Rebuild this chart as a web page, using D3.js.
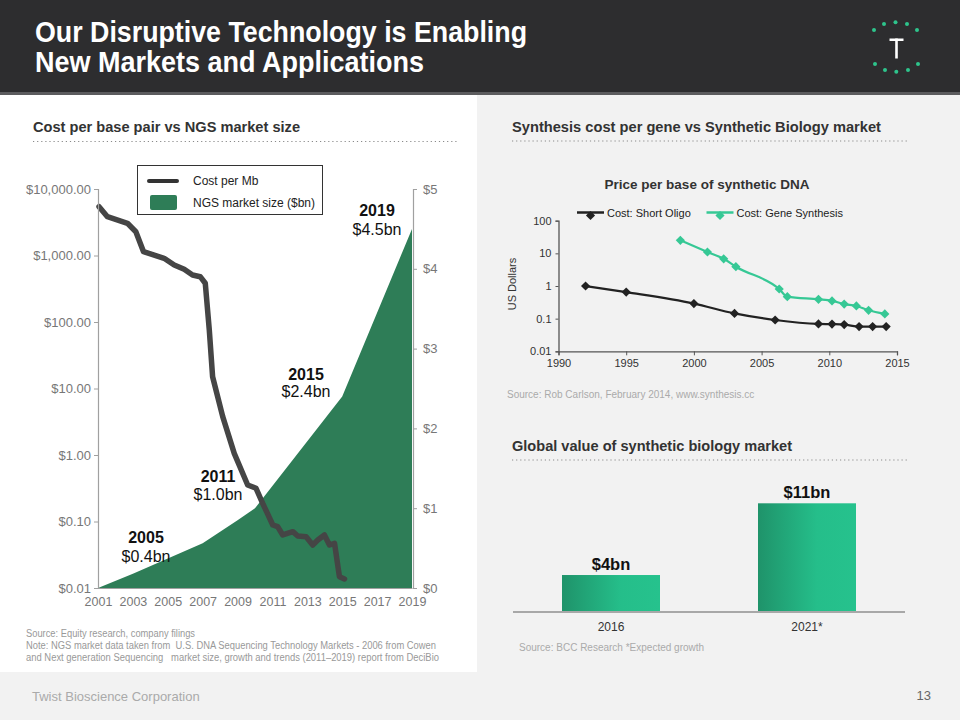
<!DOCTYPE html>
<html><head><meta charset="utf-8">
<script src="https://cdn.jsdelivr.net/npm/d3@7"></script>
<style>body{margin:0;background:#f2f2f2;}svg{display:block;font-family:"Liberation Sans",Arial,sans-serif;}</style>
</head><body>
<svg id="c" width="960" height="720"></svg>
<script>
// ---------- DATA ----------
const costYears = [2001.06,2001.54,2002.69,2003.17,2003.61,2004.79,2005.37,2005.94,2006.42,2006.86,2007.15,2007.38,2007.57,2008.15,2008.81,2009.58,2010.06,2010.44,2011.02,2011.30,2011.59,2012.17,2012.45,2012.93,2013.31,2013.60,2013.98,2014.27,2014.56,2014.84,2015.13];
const costPerMb = [5420,3830,3050,2280,1140,908,720,620,509,480,382,75.9,15.0,3.77,1.06,0.354,0.316,0.188,0.0886,0.0836,0.0627,0.0703,0.0605,0.059,0.0443,0.0527,0.0627,0.0443,0.047,0.0148,0.0137];
const ngsYears = [2001,2003,2005,2007,2009,2010,2015,2019];
const ngsMarket = [0,0.18,0.37,0.56,0.85,1.0,2.4,4.5];
const costTicks = [0.01,0.1,1,10,100,1000,10000];
const costTickLabels = ["$0.01","$0.10","$1.00","$10.00","$100.00","$1,000.00","$10,000.00"];
const marketTicks = [0,1,2,3,4,5];
const marketTickLabels = ["$0","$1","$2","$3","$4","$5"];
const yearTicks = [2001,2003,2005,2007,2009,2011,2013,2015,2017,2019];
const ngsAnnotations = [
  {year:"2019", value:"$4.5bn"},
  {year:"2015", value:"$2.4bn"},
  {year:"2011", value:"$1.0bn"},
  {year:"2005", value:"$0.4bn"}
];

const oligoYears = [1992,1995,2000,2003,2006,2009.2,2010.2,2011.1,2012.2,2013.2,2014.2];
const oligoCost = [1.0,0.65,0.29,0.145,0.091,0.069,0.068,0.066,0.057,0.057,0.057];
const geneYears = [1999,2001,2002.2,2003.1,2006.3,2006.9,2009.2,2010.2,2011.1,2012.0,2012.9,2014.1];
const geneCost = [25,11,6.8,3.9,0.81,0.47,0.39,0.35,0.28,0.245,0.18,0.14];
const priceTicks = [0.01,0.1,1,10,100];
const priceTickLabels = ["0.01","0.1","1","10","100"];
const priceYearTicks = [1990,1995,2000,2005,2010,2015];

const marketCategories = ["2016","2021*"];
const marketValues = [4,11];
const marketLabels = ["$4bn","$11bn"];

// ---------- PAGE ----------
const svg = d3.select("#c");
svg.append("rect").attr("width",960).attr("height",720).attr("fill","#f2f2f2");
svg.append("rect").attr("x",0).attr("y",95).attr("width",477).attr("height",577).attr("fill","#ffffff");
svg.append("rect").attr("width",960).attr("height",92).attr("fill","#2d2d2f");
svg.append("rect").attr("y",92).attr("width",960).attr("height",3).attr("fill","#5c5c5e");

const titleFont = '"Liberation Sans Narrow","Liberation Sans",Arial,sans-serif';
svg.append("text").attr("x",35).attr("y",42).attr("fill","#fff").attr("font-size",29).attr("font-weight","bold")
  .attr("font-family",titleFont)
  .attr("textLength",492).attr("lengthAdjust","spacingAndGlyphs").text("Our Disruptive Technology is Enabling");
svg.append("text").attr("x",35).attr("y",72).attr("fill","#fff").attr("font-size",29).attr("font-weight","bold")
  .attr("font-family",titleFont)
  .attr("textLength",389).attr("lengthAdjust","spacingAndGlyphs").text("New Markets and Applications");

// logo
const logoDots = [[874,30],[884,24],[895.5,22.3],[907,24],[917,30],[875,64],[885,70],[896.3,71.7],[908,70],[918,64]];
svg.append("g").selectAll("circle").data(logoDots).join("circle")
  .attr("cx",d=>d[0]).attr("cy",d=>d[1]).attr("r",2).attr("fill","#2ec48c");
svg.append("rect").attr("x",889.5).attr("y",38.5).attr("width",14).attr("height",2.5).attr("fill","#fff");
svg.append("rect").attr("x",895.2).attr("y",38.5).attr("width",2.6).attr("height",20).attr("fill","#fff");

// section titles
function sectionTitle(x, y, x2, t, w){
  svg.append("text").attr("x",x).attr("y",y).attr("font-size",14.6).attr("font-weight","bold").attr("fill","#333")
    .attr("textLength",w).attr("lengthAdjust","spacingAndGlyphs").text(t);
  svg.append("line").attr("x1",x).attr("x2",x2).attr("y1",y+9.5).attr("y2",y+9.5)
    .attr("stroke","#8a8a8a").attr("stroke-width",1.2).attr("stroke-dasharray","1.2,2.9");
}
sectionTitle(33,132,458,"Cost per base pair vs NGS market size",267);
sectionTitle(512,131.5,907,"Synthesis cost per gene vs Synthetic Biology market",369);
sectionTitle(512,450.5,907,"Global value of synthetic biology market",280);

// ---------- LEFT CHART ----------
const xL = d3.scaleLinear().domain([2001,2019]).range([98,412]);
const yCost = d3.scaleLog().domain([0.01,10000]).range([588,189]);
const yMkt = d3.scaleLinear().domain([0,5]).range([588,189]);

const area = d3.area().x((d,i)=>xL(ngsYears[i])).y0(yMkt(0)).y1(d=>yMkt(d));
svg.append("path").attr("d",area(ngsMarket)).attr("fill","#2e7d57");

const costLine = d3.line().x((d,i)=>xL(costYears[i])).y(d=>yCost(d));
svg.append("path").attr("d",costLine(costPerMb)).attr("fill","none").attr("stroke","#454545")
  .attr("stroke-width",5.5).attr("stroke-linejoin","round").attr("stroke-linecap","round");

const axL = svg.append("g").attr("transform","translate(98,0)")
  .call(d3.axisLeft(yCost).tickValues(costTicks).tickFormat((d,i)=>costTickLabels[i]).tickSize(4).tickPadding(3));
const axR = svg.append("g").attr("transform","translate(413,0)")
  .call(d3.axisRight(yMkt).tickValues(marketTicks).tickFormat((d,i)=>marketTickLabels[i]).tickSize(4).tickPadding(6));
const axB = svg.append("g").attr("transform","translate(0,588)")
  .call(d3.axisBottom(xL).tickValues(yearTicks).tickFormat(d3.format("d")).tickSize(0).tickPadding(9));
[axL,axR,axB].forEach(a=>{
  a.select(".domain").attr("stroke","#a0a0a0").attr("stroke-width",1.2);
  a.selectAll(".tick line").attr("stroke","#a0a0a0");
  a.selectAll("text").attr("fill","#777").attr("font-size",13).attr("font-family","Liberation Sans, Arial, sans-serif");
});
axB.selectAll("text").attr("font-size",12.5);

// annotations
const annPos = [[377,216,235],[306,380,397],[218,482,500],[146,543,562]];
ngsAnnotations.forEach((a,i)=>{
  const p = annPos[i];
  svg.append("text").attr("x",p[0]).attr("y",p[1]).attr("text-anchor","middle").attr("font-size",16).attr("font-weight","bold").attr("fill","#111").text(a.year);
  svg.append("text").attr("x",p[0]).attr("y",p[2]).attr("text-anchor","middle").attr("font-size",16).attr("fill","#111").text(a.value);
});

// legend
const lg = svg.append("g");
lg.append("rect").attr("x",137.5).attr("y",165.5).attr("width",185).attr("height",49).attr("fill","#fff").attr("stroke","#333").attr("stroke-width",1);
lg.append("line").attr("x1",149).attr("x2",177).attr("y1",181).attr("y2",181).attr("stroke","#333").attr("stroke-width",4).attr("stroke-linecap","round");
lg.append("rect").attr("x",150).attr("y",195).attr("width",27).attr("height",15).attr("rx",2).attr("fill","#2e7d57");
lg.append("text").attr("x",193).attr("y",185).attr("font-size",12).attr("fill","#222").text("Cost per Mb");
lg.append("text").attr("x",193).attr("y",207).attr("font-size",12).attr("fill","#222").text("NGS market size ($bn)");

// footnotes
const notes = [
  ["Source: Equity research, company filings",636.5,169],
  ["Note: NGS market data taken from  U.S. DNA Sequencing Technology Markets - 2006 from Cowen",648.5,410],
  ["and Next generation Sequencing   market size, growth and trends (2011\u20132019) report from DeciBio",660.5,413]
];
notes.forEach(n=>{
  svg.append("text").attr("x",26).attr("y",n[1]).attr("font-size",10).attr("fill","#999")
    .attr("textLength",n[2]).attr("lengthAdjust","spacingAndGlyphs").style("white-space","pre").text(n[0]);
});

// ---------- RIGHT TOP CHART ----------
const xR = d3.scaleLinear().domain([1990,2015]).range([558.5,897]);
const yP = d3.scaleLog().domain([0.01,100]).range([351.3,220.7]);
svg.append("text").attr("x",707).attr("y",189).attr("text-anchor","middle").attr("font-size",13.5).attr("font-weight","bold").attr("fill","#333").text("Price per base of synthetic DNA");

const axPY = svg.append("g").attr("transform","translate(558.5,0)")
  .call(d3.axisLeft(yP).tickValues(priceTicks).tickFormat((d,i)=>priceTickLabels[i]).tickSize(3).tickPadding(4));
const axPX = svg.append("g").attr("transform","translate(0,351.3)")
  .call(d3.axisBottom(xR).tickValues(priceYearTicks).tickFormat(d3.format("d")).tickSize(4).tickPadding(4));
[axPY,axPX].forEach(a=>{
  a.select(".domain").attr("stroke","#555").attr("stroke-width",1.3);
  a.selectAll(".tick line").attr("stroke","#555");
  a.selectAll("text").attr("fill","#333").attr("font-size",11).attr("font-family","Liberation Sans, Arial, sans-serif");
});
svg.append("text").attr("transform","translate(516,284) rotate(-90)").attr("text-anchor","middle").attr("font-size",11).attr("fill","#333").text("US Dollars");

const gOlig = "#222222", gGene = "#36c895";
const smooth = d3.line().curve(d3.curveMonotoneX);
function series(xs, ys, col){
  const pts = xs.map((x,i)=>[xR(x), yP(ys[i])]);
  svg.append("path").attr("d",smooth(pts)).attr("fill","none").attr("stroke",col).attr("stroke-width",2.2);
  svg.append("g").selectAll("path").data(pts).join("path")
    .attr("d",d3.symbol(d3.symbolSquare,42)())
    .attr("transform",d=>`translate(${d[0]},${d[1]}) rotate(45)`).attr("fill",col);
}
series(oligoYears, oligoCost, gOlig);
series(geneYears, geneCost, gGene);

// legend
function legItem(x, col, label){
  svg.append("line").attr("x1",x).attr("x2",x+27).attr("y1",212.5).attr("y2",212.5).attr("stroke",col).attr("stroke-width",2.5);
  svg.append("path").attr("d",d3.symbol(d3.symbolSquare,42)()).attr("transform",`translate(${x+13.5},215.5) rotate(45)`).attr("fill",col);
  svg.append("text").attr("x",x+30).attr("y",216.5).attr("font-size",11).attr("fill","#222").text(label);
}
legItem(577, gOlig, "Cost: Short Oligo");
legItem(706.5, gGene, "Cost: Gene Synthesis");
svg.append("text").attr("x",507).attr("y",398).attr("font-size",10).attr("fill","#aaa").text("Source: Rob Carlson, February 2014, www.synthesis.cc");

// ---------- BAR CHART ----------
const defs = svg.append("defs");
const grad = defs.append("linearGradient").attr("id","bg").attr("x1","0").attr("x2","1").attr("y1","0").attr("y2","0");
grad.append("stop").attr("offset","0%").attr("stop-color","#1f936a");
grad.append("stop").attr("offset","60%").attr("stop-color","#25be8a");
grad.append("stop").attr("offset","100%").attr("stop-color","#26c28d");

const xB = d3.scaleBand().domain(marketCategories).range([513,905]).paddingInner(0.5).paddingOuter(0.25);
const yB = d3.scaleLinear().domain([0,11]).range([616,503.3]);
const baseY = 611.5;
svg.append("g").selectAll("rect").data(marketValues).join("rect")
  .attr("x",(d,i)=>xB(marketCategories[i])).attr("width",xB.bandwidth())
  .attr("y",d=>yB(d)).attr("height",d=>baseY-yB(d)).attr("fill","url(#bg)");
svg.append("line").attr("x1",513).attr("x2",905).attr("y1",612).attr("y2",612).attr("stroke","#a8a8a8").attr("stroke-width",2);
svg.append("g").selectAll("text").data(marketValues).join("text")
  .attr("x",(d,i)=>xB(marketCategories[i])+xB.bandwidth()/2).attr("y",d=>yB(d)-5)
  .attr("text-anchor","middle").attr("font-size",16.5).attr("font-weight","bold").attr("fill","#111")
  .text((d,i)=>marketLabels[i]);
svg.append("g").selectAll("text").data(marketCategories).join("text")
  .attr("x",d=>xB(d)+xB.bandwidth()/2).attr("y",631)
  .attr("text-anchor","middle").attr("font-size",12).attr("fill","#333").text(d=>d);
svg.append("text").attr("x",519).attr("y",651).attr("font-size",10).attr("fill","#aaa").text("Source: BCC Research *Expected growth");

// ---------- FOOTER ----------
svg.append("text").attr("x",32).attr("y",701).attr("font-size",13).attr("fill","#aaa").text("Twist Bioscience Corporation");
svg.append("text").attr("x",931).attr("y",700).attr("text-anchor","end").attr("font-size",13).attr("fill","#666").text("13");
</script>
</body></html>
